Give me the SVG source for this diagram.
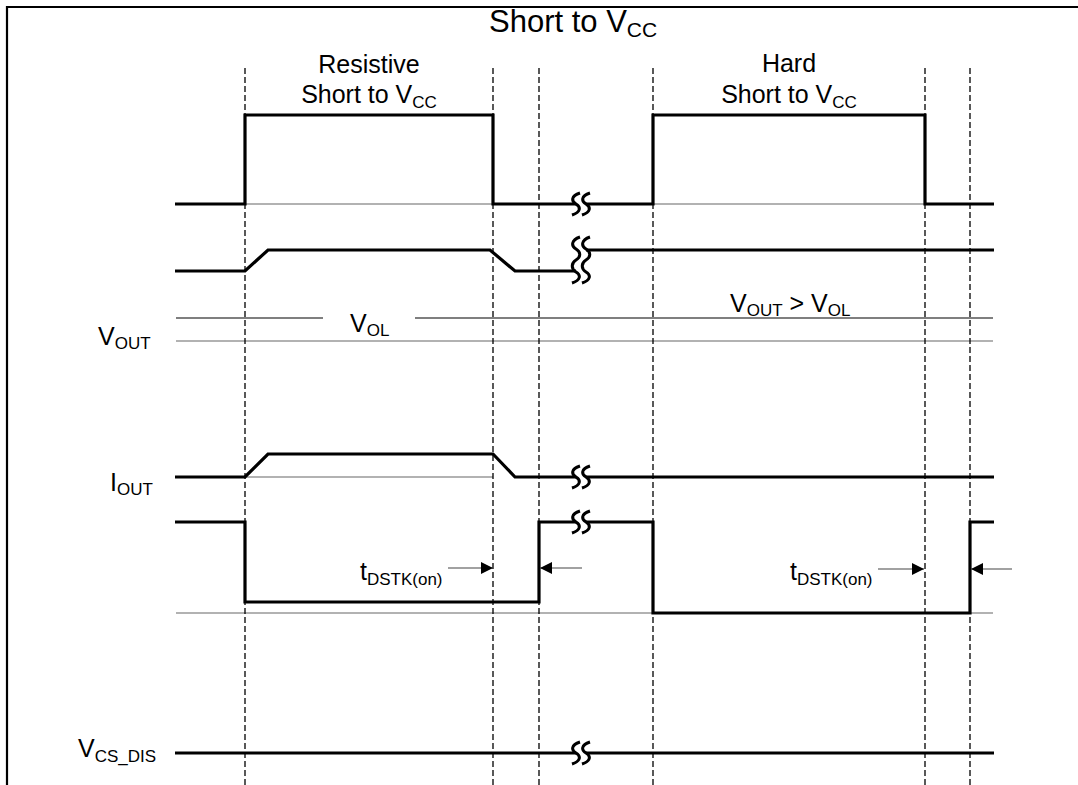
<svg xmlns="http://www.w3.org/2000/svg" width="1078" height="785" viewBox="0 0 1078 785">
<style>
text{font-family:"Liberation Sans",Arial,sans-serif;fill:#000}
.lbl{font-size:25px}
.sub{font-size:17px}
.ttl{font-size:31px}
.tsub{font-size:21px}
.sig{fill:none;stroke:#000;stroke-width:3.2;stroke-linejoin:miter}
.ref{fill:none;stroke:#666;stroke-width:1.2}
.refk{fill:none;stroke:#000;stroke-width:1.2}
.dash{fill:none;stroke:#000;stroke-width:1.3;stroke-dasharray:6,3}
.brk{fill:none;stroke:#000;stroke-width:3}
.arr{fill:none;stroke:#444;stroke-width:1.2}
</style>
<defs>
<marker id="ah" markerUnits="userSpaceOnUse" markerWidth="13" markerHeight="13" refX="12" refY="6" orient="auto">
<path d="M0,0 L12,6 L0,12 z" fill="#000"/>
</marker>
</defs>
<rect width="1078" height="785" fill="#fff"/>
<path d="M7,785 V7 H1078" fill="none" stroke="#000" stroke-width="2.2"/>

<g id="title">
<text class="ttl" x="489" y="32">Short to V<tspan class="tsub" dy="5">CC</tspan></text>
</g>

<g id="phase-labels">
<text class="lbl" x="369" y="73" text-anchor="middle">Resistive</text>
<text class="lbl" x="369" y="103" text-anchor="middle">Short to V<tspan class="sub" dy="5">CC</tspan></text>
<text class="lbl" x="789" y="72" text-anchor="middle">Hard</text>
<text class="lbl" x="789" y="103" text-anchor="middle">Short to V<tspan class="sub" dy="5">CC</tspan></text>
</g>

<g id="reference-lines">
<path class="ref" d="M245,204 H493 M653,204 H925"/>
<path class="refk" d="M176,318 H323 M415,318 H993"/>
<path class="ref" d="M176,341 H993"/>
<path class="ref" d="M245,477 H493"/>
<path class="ref" d="M176,613 H993"/>
</g>

<g id="markers">
<path class="dash" d="M245,68 V785 M493,68 V785 M539,68 V785 M653,68 V785 M925,68 V785 M970,68 V785"/>
</g>

<g id="sig-input">
<path class="sig" d="M175,204 H245 V115 H493 V204 H576 M586,204 H653 V115 H925 V204 H994"/>
<path class="brk" d="M580,193 C571,196 571,201 576,204 C581,207 581,212 572,215 M590,193 C581,196 581,201 586,204 C591,207 591,212 582,215"/>
</g>

<g id="sig-vout">
<path class="sig" d="M175,271 H245 L268,250 H490 L515,271 H576 M586,250 H994"/>
<path class="brk" d="M580,237 C571,240 571,246 576,249 C581,252 581,257 576,260 C571,263 571,269 576,272 C581,275 581,280 572,283 M590,237 C581,240 581,246 586,249 C591,252 591,257 586,260 C581,263 581,269 586,272 C591,275 591,280 582,283"/>
<text class="lbl" x="98" y="345">V<tspan class="sub" dy="4">OUT</tspan></text>
<text class="lbl" x="350" y="332">V<tspan class="sub" dy="4">OL</tspan></text>
<text class="lbl" x="730" y="312">V<tspan class="sub" dy="4">OUT</tspan><tspan dy="-4"> &gt; V</tspan><tspan class="sub" dy="4">OL</tspan></text>
</g>

<g id="sig-iout">
<path class="sig" d="M175,477 H245 L268,454 H493 L515,477 H576 M586,477 H994"/>
<path class="brk" d="M580,466 C571,469 571,474 576,477 C581,480 581,485 572,488 M590,466 C581,469 581,474 586,477 C591,480 591,485 582,488"/>
<text class="lbl" x="110" y="491">I<tspan class="sub" dy="4">OUT</tspan></text>
</g>

<g id="sig-status">
<path class="sig" d="M175,522 H245 V602 H539 V522 H576 M586,522 H653 V613 H970 V522 H994"/>
<path class="brk" d="M580,511 C571,514 571,519 576,522 C581,525 581,530 572,533 M590,511 C581,514 581,519 586,522 C591,525 591,530 582,533"/>
<text class="lbl" x="360" y="580">t<tspan class="sub" dy="5">DSTK(on)</tspan></text>
<text class="lbl" x="790" y="580">t<tspan class="sub" dy="5">DSTK(on)</tspan></text>
</g>

<g id="sig-vcsdis">
<path class="sig" d="M175,753 H576 M586,753 H994"/>
<path class="brk" d="M580,742 C571,745 571,750 576,753 C581,756 581,761 572,764 M590,742 C581,745 581,750 586,753 C591,756 591,761 582,764"/>
<text class="lbl" x="78" y="757">V<tspan class="sub" dy="5">CS_DIS</tspan></text>
</g>

<g id="connectors">
<path class="arr" d="M448,568 H493" marker-end="url(#ah)"/>
<path class="arr" d="M582,568 H540" marker-end="url(#ah)"/>
<path class="arr" d="M878,569 H924" marker-end="url(#ah)"/>
<path class="arr" d="M1012,569 H971" marker-end="url(#ah)"/>
</g>
</svg>
